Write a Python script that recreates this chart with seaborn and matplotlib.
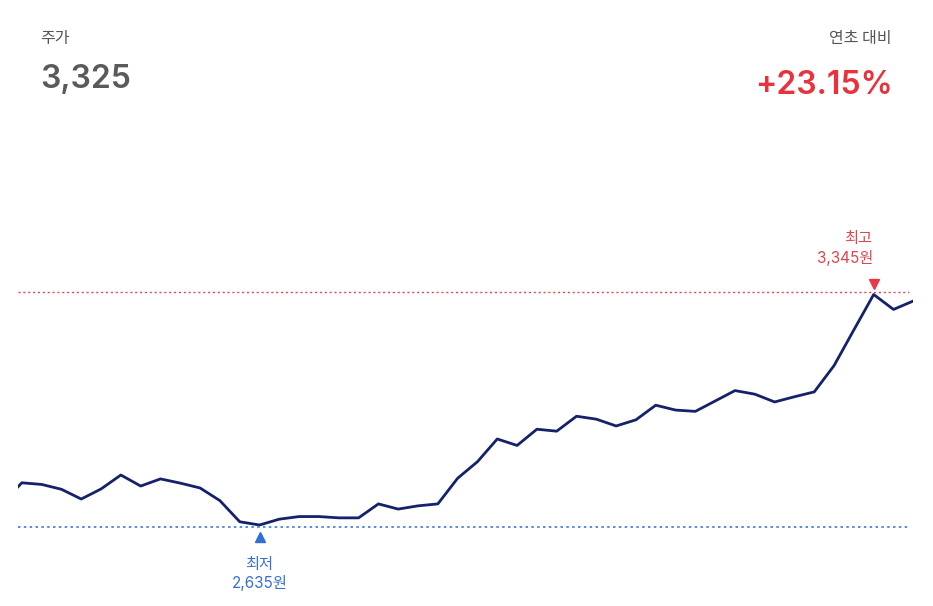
import numpy as np
import pandas as pd
import matplotlib
matplotlib.use('Agg')
import matplotlib.pyplot as plt
import matplotlib.transforms as mtransforms
import seaborn as sns

# Price series (one point per period)
prices = [2700, 2765, 2760, 2745, 2715, 2746, 2789, 2755, 2777, 2764,
          2749, 2710, 2645, 2635, 2653, 2661, 2661, 2657, 2657, 2700,
          2684, 2694, 2700, 2779, 2830, 2900, 2880, 2930, 2924, 2970,
          2961, 2940, 2959, 3004, 2989, 2985, 3017, 3049, 3038, 3014,
          3030, 3045, 3126, 3236, 3345, 3299, 3325]
current_price = "3,325"
ytd_change = "+23.15%"
high_label = ["최고", "3,345원"]
low_label = ["최저", "2,635원"]

df = pd.DataFrame({'idx': np.arange(len(prices)), 'price': prices})
hi_i = int(df['price'].idxmax())
lo_i = int(df['price'].idxmin())
hi_v = df['price'].max()
lo_v = df['price'].min()

sns.set_theme(style='white')
plt.rcParams['font.family'] = ['Inter', 'Noto Sans CJK KR', 'DejaVu Sans']
kr = ['Noto Sans CJK KR', 'DejaVu Sans']

W, H = 933, 606
fig = plt.figure(figsize=(W / 100, H / 100), dpi=100)

# axes placed in pixel terms: left 18, right 913, top 200, bottom 600
ax_l, ax_r, ax_t, ax_b = 18, 913, 200, 600
ax = fig.add_axes([ax_l / W, 1 - ax_b / H, (ax_r - ax_l) / W, (ax_b - ax_t) / H])

sns.lineplot(data=df, x='idx', y='price', ax=ax, color='#15216b', linewidth=2.0)

# x: index 0 sits at pixel 2, last index at pixel 913
step = (913.3 - 2) / (len(prices) - 1)
ax.set_xlim((ax_l - 2) / step, (ax_r - 2) / step)
# y: min at pixel 525, max at pixel 294.5
upp = (hi_v - lo_v) / (525 - 294.5)
ax.set_ylim(lo_v - (ax_b - 525) * upp, hi_v + (294.5 - ax_t) * upp)

# reference lines sit just outside the extremes
ax.axhline(hi_v + 2.5 * upp, color='#e8454f', linestyle=(0, (1.5, 2)), linewidth=1.0, xmax=0.995)
ax.axhline(lo_v - 2 * upp, color='#3f78d8', linestyle=(0, (1.5, 2)), linewidth=1.2, xmax=0.995)

ax.plot(hi_i, hi_v, marker='v', color='#e8394a', markersize=7, linestyle='none',
        transform=ax.transData + mtransforms.ScaledTranslation(0, 11 / 100, fig.dpi_scale_trans),
        clip_on=False)
ax.plot(lo_i, lo_v, marker='^', color='#2f6fd6', markersize=7, linestyle='none',
        transform=ax.transData + mtransforms.ScaledTranslation(0, -12 / 100, fig.dpi_scale_trans),
        clip_on=False)

ax.annotate(high_label[0], (hi_i, hi_v), xytext=(-2, 56), textcoords='offset pixels',
            ha='right', va='center', fontsize=11, color='#e0454f', annotation_clip=False)
ax.annotate(high_label[1], (hi_i, hi_v), xytext=(0, 37), textcoords='offset pixels',
            ha='right', va='center', fontsize=11, color='#e0454f', annotation_clip=False)
ax.annotate(low_label[0], (lo_i, lo_v), xytext=(0, -39), textcoords='offset pixels',
            ha='center', va='center', fontsize=11, color='#3a6fd0', annotation_clip=False)
ax.annotate(low_label[1], (lo_i, lo_v), xytext=(0, -58), textcoords='offset pixels',
            ha='center', va='center', fontsize=11, color='#3a6fd0', annotation_clip=False)

ax.set_axis_off()

# header texts
fig.text(40 / W, 1 - 38.5 / H, "주가", fontsize=11.5, color='#555555', ha='left', va='center',
         family=kr)
fig.text(40 / W, 1 - 79 / H, current_price, fontsize=23, color='#5a5a5a', ha='left',
         va='center', fontweight='semibold')
fig.text(892 / W, 1 - 38.5 / H, "연초 대비", fontsize=11.5, color='#555555', ha='right',
         va='center', family=kr)
fig.text(893 / W, 1 - 86 / H, ytd_change, fontsize=23, color='#e8323c', ha='right',
         va='center', fontweight='semibold')

fig.savefig('out.png', dpi=100, facecolor='white')
